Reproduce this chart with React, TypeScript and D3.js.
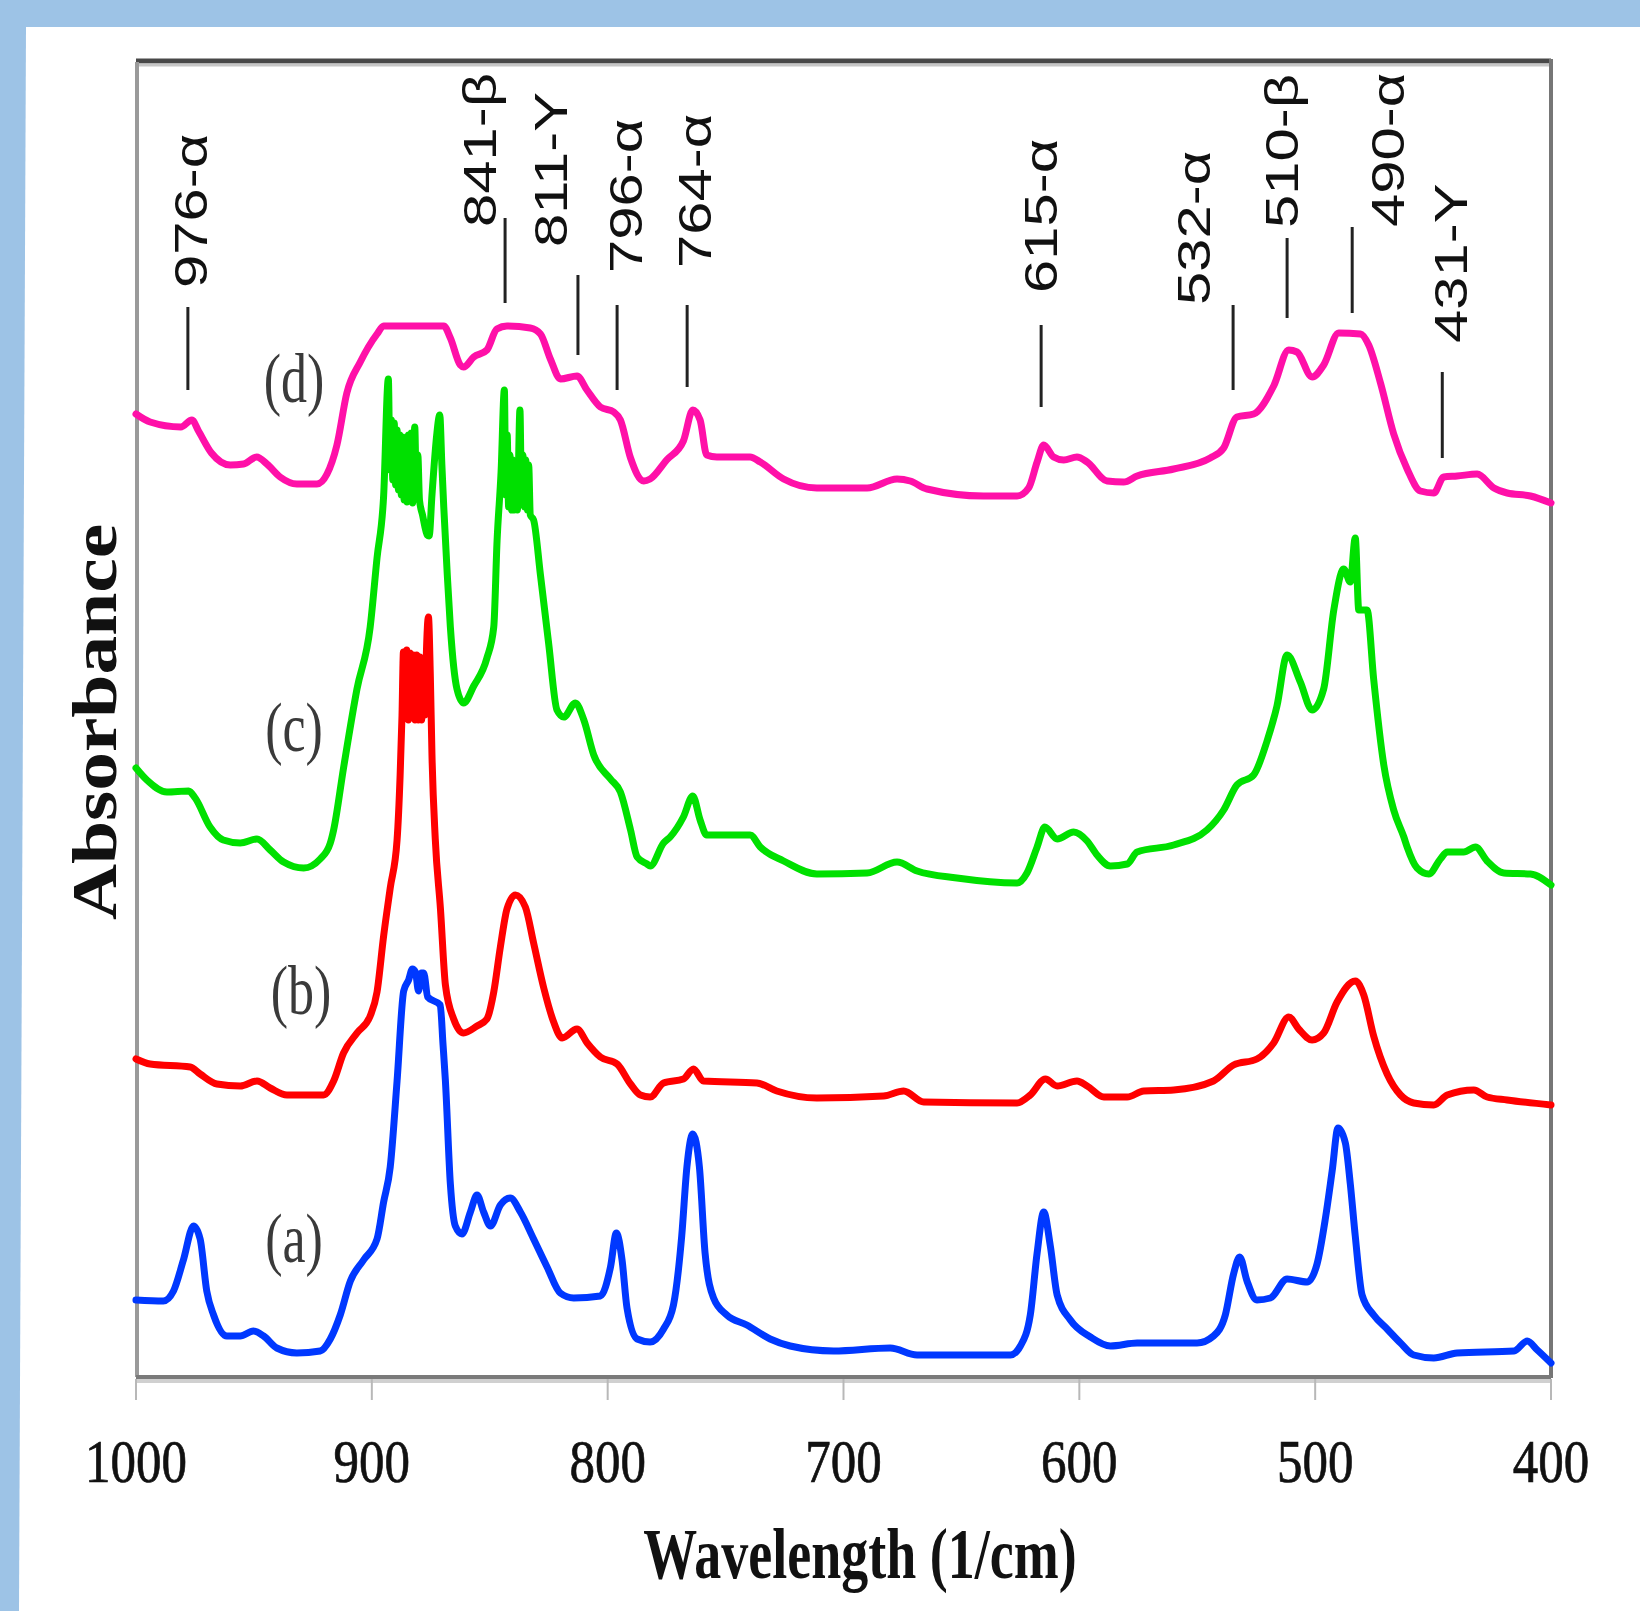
import React, { useEffect } from 'react';
import * as d3 from 'd3';

// wavenumber (1/cm), absorbance (a.u., curves offset as in the figure)
const seriesA: [number, number][] = [
  [1000, 7.5], [988.4, 7.4], [984.1, 8.4], [979.9, 11.5], [975.6, 14.9], [972.8, 13.6], [970, 8.4], [967.1, 6],
  [961.5, 3.9], [955.8, 3.9], [950.2, 4.4], [945.9, 3.9], [940.3, 2.7], [931.8, 2.2], [921.9, 2.4], [917.6, 3.6],
  [913.4, 6], [909.1, 9.4], [903.5, 11.5], [897.8, 13.6], [895, 17.3], [892.2, 20.8], [889.3, 29.4], [886.5, 38.4],
  [884.4, 39.5], [882.8, 40.6], [881.5, 40.3], [880.2, 38.4], [879, 40.2], [878, 40.2], [876.3, 37.8], [871, 37],
  [869.8, 33], [868.8, 29.4], [866.7, 19.1], [864.6, 14.9], [861.8, 14.1], [858.2, 16.3], [855.4, 18], [852.6, 16.3],
  [849.7, 14.9], [845.5, 17], [841.3, 17.7], [837, 16.3], [831.4, 13.6], [825.7, 10.8], [820.1, 8.2], [814.4, 7.7],
  [803.1, 7.9], [798.8, 10.8], [796.3, 14.2], [793.9, 11.5], [791.8, 6.7], [787.5, 3.6], [782, 3.3], [776.3, 4.6],
  [772.1, 7], [768.6, 13.9], [766.4, 20.8], [763.9, 24.1], [761.1, 20.8], [758.7, 12.2], [755.1, 7.7], [749.5, 6],
  [741, 5], [731.1, 3.6], [722.6, 2.9], [704.2, 2.4], [680.2, 2.7], [668.8, 2], [629.2, 2], [625, 2.9],
  [620.8, 6], [617.9, 12.2], [615.1, 16.3], [612.3, 12.9], [609.4, 8], [603.8, 5.5], [595.3, 3.8], [586.8, 2.9],
  [575.5, 3.2], [550.1, 3.2], [543.1, 3.9], [538.1, 6], [534.6, 10.1], [532, 11.8], [528.9, 9.4], [524.7, 7.5],
  [519, 7.7], [511.9, 9.6], [503.4, 9.3], [499.2, 11.1], [495.7, 15.6], [492.8, 20.4], [490.3, 24.7], [487.2, 23.2],
  [485.1, 19.1], [483, 13.9], [480.1, 8], [475.2, 6], [469.5, 4.6], [463.8, 3.2], [458.2, 2], [449.7, 1.7],
  [439.8, 2.2], [415.7, 2.4], [410.1, 3.4], [405.8, 2.5], [400, 1.2],
];

const seriesB: [number, number][] = [
  [1000, 31.6], [994, 31.1], [977, 30.8], [972.8, 30.1], [965.7, 29.1], [955.8, 28.9], [948.7, 29.4], [943.1, 28.7],
  [936, 28], [920.5, 28], [916.2, 29.4], [912, 32.2], [906.3, 34.2], [900.7, 35.9], [897.8, 38.3], [895, 43.9],
  [892.2, 48.7], [889.3, 53.5], [888, 60], [887.2, 66], [886.6, 72.3], [885.9, 66], [885.2, 72.5], [884.5, 65.5],
  [883.8, 72.2], [883.1, 65.8], [882.4, 72], [881.7, 65.5], [881, 72], [880.3, 65.5], [879.6, 71.8], [878.9, 65.5],
  [878.2, 71.5], [877.5, 66], [876.9, 72], [876, 75.8], [875.2, 70], [874.5, 62], [873.1, 53.6], [870.9, 46.6],
  [868.8, 39], [865.3, 35.6], [861.1, 34.2], [855.4, 34.9], [851.2, 35.6], [848.3, 38.3], [845.5, 42.8], [842.7, 46.6],
  [839.1, 48], [834.9, 46.8], [831.4, 43.2], [827.1, 38.7], [822.9, 35.3], [819.3, 33.7], [813, 34.6], [808.7, 33.2],
  [803.1, 31.8], [796, 31.1], [790.3, 29.1], [786.1, 28], [782, 27.8], [776.3, 29.2], [767.9, 29.6], [763.6, 30.6],
  [759.4, 29.4], [736.7, 29.2], [728.3, 28.4], [711.3, 27.7], [683, 27.9], [674.5, 28.4], [666, 27.3], [626.4, 27.2],
  [620.8, 28], [614.4, 29.6], [609.4, 28.9], [601, 29.4], [596.7, 28.9], [589.6, 27.8], [579.7, 27.8], [572.7, 28.4],
  [560, 28.5], [543.1, 29.4], [534.6, 31], [524.7, 31.6], [517.6, 33.2], [511.2, 35.8], [507, 34.6], [501.3, 33.5],
  [496.4, 34.2], [490.7, 37.3], [483, 39.4], [479.4, 38], [475.2, 33.9], [469.5, 30.1], [463.8, 28], [458.2, 27.2],
  [449.7, 27], [444, 28], [432.7, 28.5], [427.1, 27.8], [418.6, 27.5], [400, 27],
];

const seriesC: [number, number][] = [
  [1000, 60.7], [995.4, 59.5], [986.9, 58.3], [977.7, 58.4], [974.9, 57.7], [968.6, 54.8], [963, 53.5], [955.8, 53.2],
  [948.7, 53.6], [943.1, 52.5], [937.4, 51.3], [928.9, 50.7], [921.9, 51.6], [917.6, 53.2], [916.2, 54.5], [912, 60.7],
  [906.3, 68.6], [900.7, 74.8], [897.8, 81.7], [895, 87.9], [893, 99.6], [892.3, 90.5], [891.7, 95.5], [891.1, 89.5],
  [890.5, 95.2], [889.9, 89], [889.3, 94.5], [888.7, 88.5], [888.1, 94], [887.5, 88], [886.9, 93.8], [886.3, 87.5],
  [885.7, 93.5], [885.1, 87.3], [884.5, 94], [883.9, 87.5], [883.3, 94.2], [882.7, 87.2], [881.8, 94.8], [881.1, 88],
  [880.5, 92], [879.8, 87.5], [878.5, 86], [876.5, 84], [875.7, 83.9], [874.5, 88], [873.8, 90.3], [872.5, 94],
  [871.2, 96], [870.3, 91], [869.5, 86.8], [868, 80], [866.7, 74.8], [863.9, 68.6], [861.1, 67.2], [856.8, 68.9],
  [851.2, 71.7], [848.3, 74.8], [846.9, 83.4], [845.2, 90.3], [843.8, 98.5], [843.2, 88], [842.6, 94], [842, 86.8],
  [841.4, 92], [840.8, 86.5], [840.2, 91.5], [839.6, 86.5], [839, 91], [838.3, 86.5], [837.2, 96.5], [836.5, 87],
  [835.9, 92], [835.3, 86.8], [834.7, 91.5], [834.1, 86.5], [833.5, 91], [832.8, 86], [831.4, 85.5], [828.5, 80],
  [825, 73.1], [821.5, 66.5], [818.6, 65.8], [813.7, 67.2], [810.1, 65.5], [805.9, 62], [798.8, 59.6], [794.6, 58.3],
  [790.3, 54.5], [787.5, 51.8], [783.3, 51.1], [782, 50.9], [776.3, 53.2], [773.5, 53.8], [767.9, 55.8], [763.9, 57.9],
  [760.8, 55.5], [758, 54], [739.6, 54], [735.3, 52.8], [725.4, 51.4], [711.3, 50.1], [690, 50.2], [677.3, 51.3],
  [668.8, 50.4], [651.9, 49.7], [626.4, 49.2], [622.2, 50.2], [617.9, 52.8], [614.6, 54.8], [609.4, 53.6], [602.4, 54.3],
  [596.7, 53.4], [592.5, 52], [586.8, 50.9], [579.7, 51.1], [575.5, 52.3], [560, 53], [545.9, 54.5], [538.8, 56.5],
  [533.2, 59], [526.1, 60], [520.4, 63.4], [516.2, 66.9], [511.9, 72], [506.3, 69.3], [501.3, 66.5], [496.4, 68.6],
  [492.1, 76.5], [487.9, 80.6], [485.1, 79.3], [483, 83.7], [481.5, 76.5], [478, 76.5], [475.2, 69.6], [470.9, 61],
  [466.7, 56.5], [462.4, 53.8], [461, 52.8], [456.8, 50.7], [451.8, 50.1], [446.9, 51.6], [444, 52.3], [437, 52.3],
  [432, 52.8], [427.1, 51.4], [420, 50.2], [408.7, 50.1], [400, 49],
];

const seriesD: [number, number][] = [
  [1000, 96.1], [994, 95.3], [981, 94.8], [976.3, 95.5], [973.5, 94.4], [968, 92.2], [960, 91], [954.4, 91.1],
  [948.8, 91.8], [944.5, 91.1], [938.9, 89.8], [931.8, 89.1], [923.3, 89.1], [919, 90.1], [914.8, 93], [910.6, 98.2],
  [904.9, 101.3], [897.8, 104.1], [895, 104.9], [869.5, 104.9], [866.7, 103.7], [862.5, 101], [861.1, 100.8], [856.8, 101.8],
  [851.2, 102.5], [847, 104.6], [842.7, 104.9], [832.8, 104.7], [828.5, 104.1], [824.3, 101.6], [820, 99.6], [813, 99.9],
  [808.8, 98.5], [803.1, 96.8], [797.4, 96.3], [794.6, 95.5], [790.3, 91.7], [784.7, 89.4], [782, 89.6], [775, 91.5],
  [767.9, 93.4], [763.9, 96.5], [760.8, 95.5], [758, 92], [753.7, 91.8], [739.6, 91.8], [735.3, 91.3], [725.4, 89.6],
  [711.3, 88.7], [690, 88.7], [677.3, 89.6], [671.7, 89.4], [664.6, 88.6], [640.6, 87.9], [626.4, 87.9], [621.5, 88.7],
  [617.9, 91.3], [615.1, 93], [610.9, 91.8], [606.6, 91.5], [601, 91.8], [596.7, 91.3], [588.2, 89.4], [581.2, 89.3],
  [575.5, 89.9], [560, 90.6], [544.5, 91.7], [538.8, 92.7], [533.2, 95.8], [526.1, 96.1], [517.6, 98.9], [511.2, 102.5],
  [507.7, 102.3], [501.3, 99.8], [496.4, 101], [490, 104.2], [480.8, 104.1], [477.3, 103], [472.3, 99.2], [466.7, 94.1],
  [461, 90.6], [455.4, 88.4], [449.7, 88.2], [445.5, 89.8], [439.8, 89.9], [431.3, 90.1], [424.2, 88.7], [418.6, 88.2],
  [408.7, 87.9], [400, 87.2],
];

const curveColors = ['#0038ff', '#ff0000', '#00e000', '#ff10a8'];
const curveNames = ['(a)', '(b)', '(c)', '(d)'];
const curveNameX = [933, 930, 933, 933];
const curveNameY = [11.3, 36.1, 62.4, 97.3];

// peak assignments: label text, label centre, label start, marker line
const peakLabels = ['976-α', '841-β', '811-Y', '796-α', '764-α', '615-α', '532-α', '510-β', '490-α', '431-Y'];
const labelWn = [976.7, 854.1, 824, 792.2, 762.9, 616.2, 551.3, 514, 469, 442.3];
const labelBase = [108.7, 114.8, 112.8, 110.2, 110.7, 108.2, 107, 114.7, 114.8, 103.2];
const stemWn = [978, 843.5, 812.6, 796, 766.3, 616.2, 534.8, 511.9, 484.3, 446.1];
const stemTop = [106.8, 115.7, 110, 107, 107, 105, 107, 113.7, 114.8, 100.3];
const stemBottom = [98.5, 107.2, 102, 98.5, 98.8, 96.8, 98.5, 105.7, 106.2, 91.7];

const xTicks = [1000, 900, 800, 700, 600, 500, 400];

const W = 1640;
const H = 1611;
const margin = { left: 136, right: 89, top: 62, bottom: 236 };
const serif = '"Liberation Serif", "Times New Roman", serif';
const sans = '"Liberation Sans", Arial, sans-serif';

export default function App() {
  useEffect(() => {
    document.documentElement.style.overflow = 'hidden';
    document.body.style.margin = '0';
  }, []);

  const x = d3.scaleLinear().domain([1000, 400]).range([margin.left, W - margin.right]);
  const y = d3.scaleLinear().domain([0, 131.3]).range([H - margin.bottom, margin.top]);
  const line = d3
    .line<[number, number]>()
    .x(d => x(d[0]))
    .y(d => y(d[1]))
    .curve(d3.curveMonotoneX);

  const series = [seriesA, seriesB, seriesC, seriesD];
  const left = x(1000);
  const right = x(400);
  const top = y(131.3);
  const bottom = y(0);

  return (
    <svg width={W} height={H} style={{ position: 'absolute', left: 0, top: 0, display: 'block' }}>
      <rect x={0} y={0} width={W} height={H} fill="#9dc3e6" />
      <polygon points={`26,27 ${W},27 ${W},${H} 19,${H}`} fill="#ffffff" />

      {/* frame */}
      <line x1={left} x2={right} y1={top - 1} y2={top - 1} stroke="#484848" strokeWidth={5} />
      <line x1={left} x2={right} y1={top + 3} y2={top + 3} stroke="#c6c6c6" strokeWidth={3} />
      <line x1={left + 1} x2={left + 1} y1={top} y2={bottom + 2} stroke="#9a9a9a" strokeWidth={4} />
      <line x1={right} x2={right} y1={top - 3} y2={bottom + 3} stroke="#767676" strokeWidth={4} />
      <line x1={left} x2={right} y1={bottom + 2} y2={bottom + 2} stroke="#7a7a7a" strokeWidth={4} />
      <line x1={left} x2={right} y1={bottom + 6} y2={bottom + 6} stroke="#d0d0d0" strokeWidth={4} />

      {/* x axis */}
      {xTicks.map(t => (
        <g key={t}>
          <line x1={x(t)} x2={x(t)} y1={bottom + 4} y2={bottom + 25} stroke="#b8b8b8" strokeWidth={2} />
          <text
            transform={`translate(${x(t)},${bottom + 107}) scale(1,1.2)`}
            textAnchor="middle"
            fontFamily={serif}
            fontSize={51}
            fill="#111"
            stroke="#111"
            strokeWidth={0.6}
          >
            {t}
          </text>
        </g>
      ))}
      <text
        transform={`translate(860,${bottom + 203}) scale(1,1.32)`}
        textAnchor="middle"
        fontFamily={serif}
        fontWeight="bold"
        fontSize={54}
        fill="#111"
      >
        Wavelength (1/cm)
      </text>
      <text
        transform={`translate(116,722) rotate(-90) scale(1.23,1)`}
        textAnchor="middle"
        fontFamily={serif}
        fontWeight="bold"
        fontSize={63}
        fill="#111"
      >
        Absorbance
      </text>

      {/* spectra */}
      {series.map((s, i) => (
        <path
          key={i}
          d={line(s) || ''}
          fill="none"
          stroke={curveColors[i]}
          strokeWidth={7}
          strokeLinejoin="round"
          strokeLinecap="round"
        />
      ))}

      {/* curve names */}
      {curveNames.map((n, i) => (
        <text
          key={n}
          transform={`translate(${x(curveNameX[i])},${y(curveNameY[i])}) scale(1,1.35)`}
          textAnchor="middle"
          fontFamily={serif}
          fontSize={52}
          fill="#3a3a3a"
        >
          {n}
        </text>
      ))}

      {/* peak assignments */}
      {peakLabels.map((p, i) => (
        <g key={p}>
          <line
            x1={x(stemWn[i])}
            x2={x(stemWn[i])}
            y1={y(stemTop[i])}
            y2={y(stemBottom[i])}
            stroke="#222"
            strokeWidth={3}
          />
          <text
            transform={`translate(${x(labelWn[i])},${y(labelBase[i])}) rotate(-90) scale(1.3,1)`}
            y={16}
            textAnchor="start"
            fontFamily={sans}
            fontSize={46}
            fill="#111"
          >
            {p}
          </text>
        </g>
      ))}
    </svg>
  );
}
